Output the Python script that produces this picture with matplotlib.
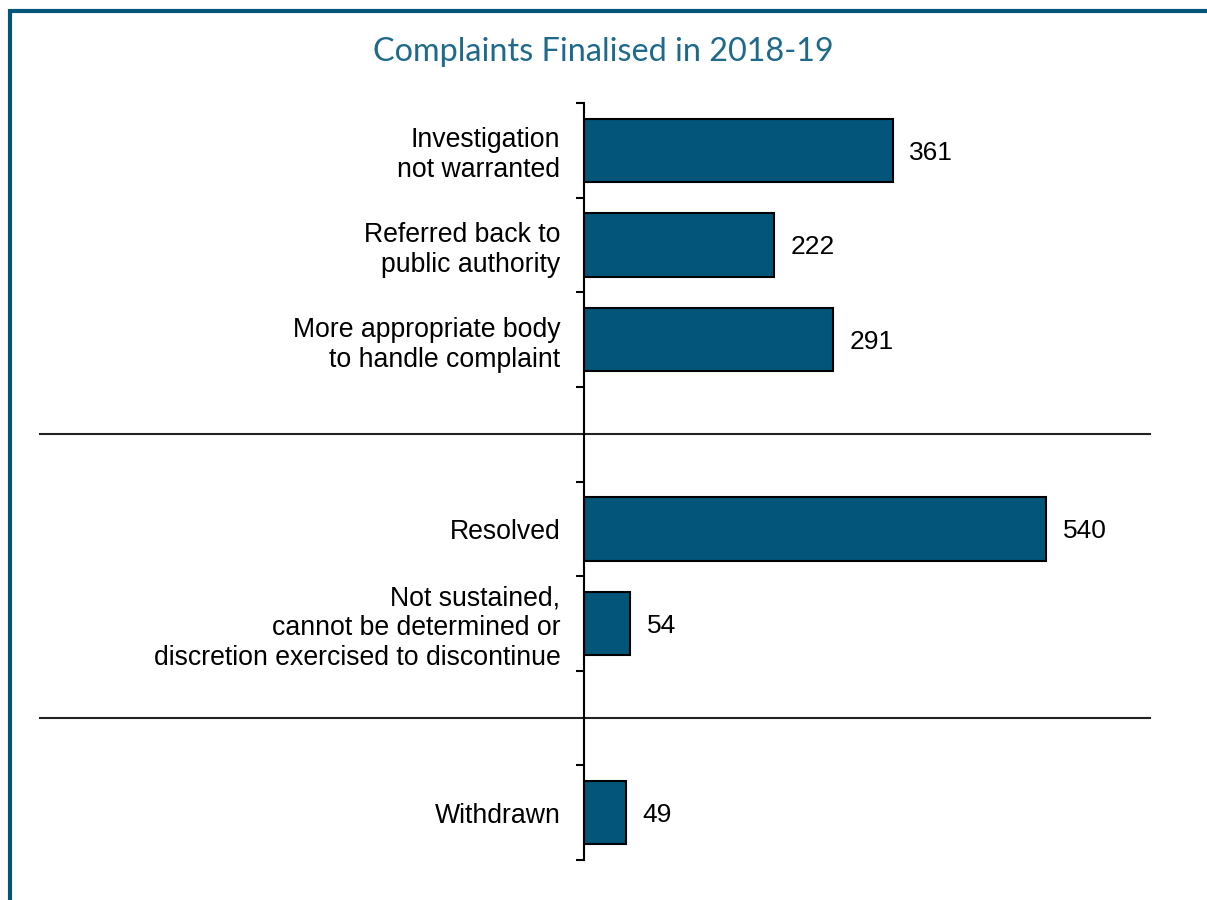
import matplotlib.pyplot as plt
from matplotlib.patches import Rectangle
from matplotlib.transforms import blended_transform_factory

# Datos del gráfico
categorias = ['Investigation\nnot warranted',
              'Referred back to\npublic authority',
              'More appropriate body\nto handle complaint',
              'Resolved',
              'Not sustained,\ncannot be determined or\ndiscretion exercised to discontinue',
              'Withdrawn']
valores = [361, 222, 291, 540, 54, 49]
grupos = [0, 0, 0, 1, 1, 2]

azul = '#03557a'
plt.rcParams['font.family'] = ['Liberation Sans', 'DejaVu Sans']

# Posición de cada barra: un hueco vacío entre grupos
posiciones = [i + g for i, g in enumerate(grupos)]
n_slots = posiciones[-1] + 1
separadores = [posiciones[i] + 1 for i in range(len(grupos) - 1) if grupos[i] != grupos[i + 1]]

fig = plt.figure(figsize=(12.07, 9), dpi=100)
ax = fig.add_axes([584 / 1207, 40 / 900, 556 / 1207, 757 / 900])

centros = [p + 0.5 for p in posiciones]
ax.barh(centros, valores, height=0.67, color=azul, edgecolor='black', linewidth=1.5)

ax.set_ylim(n_slots, 0)
ax.set_xlim(0, 650)

# Etiquetas de valores
for c, v in zip(centros, valores):
    ax.annotate(str(v), (v, c), xytext=(12, 0), textcoords='offset points',
                va='center_baseline', ha='left', fontsize=19)

# Ejes
for lado in ['top', 'right', 'bottom']:
    ax.spines[lado].set_visible(False)
ax.spines['left'].set_linewidth(1.5)
ax.set_xticks([])
ax.set_yticks(range(n_slots + 1))
ax.set_yticklabels([])
ax.tick_params(axis='y', which='major', length=6, width=1.5, direction='out')
ax.set_yticks(centros, minor=True)
ax.set_yticklabels(categorias, minor=True, fontsize=19.2)
ax.tick_params(axis='y', which='minor', length=0, pad=17)

# Líneas separadoras entre grupos
trans = blended_transform_factory(fig.transFigure, ax.transData)
for s in separadores:
    ax.plot([40 / 1207, 1150 / 1207], [s + 0.5, s + 0.5], color='#222222',
            linewidth=1.5, transform=trans, clip_on=False)

# Título
fig.text(0.5, 1 - 52 / 900, 'Complaints Finalised in 2018-19', ha='center', va='center',
         fontsize=23.3, color='#1f6a8a', family=['Lato', 'DejaVu Sans'])

# Marco
fig.patches.append(Rectangle((10 / 1207, -0.1), 1.5, 1 - 11 / 900 + 0.1, fill=False,
                             edgecolor=azul, linewidth=3, transform=fig.transFigure))

fig.savefig('out.png', dpi=100)
